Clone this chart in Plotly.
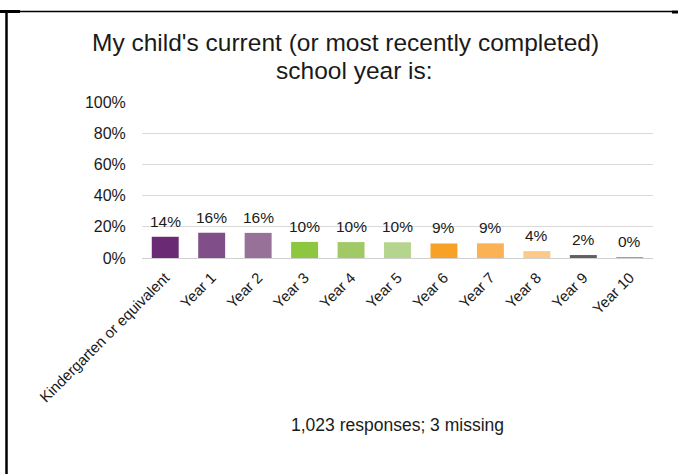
import plotly.graph_objects as go

# School year distribution (share of responses, %)
categories = ["Kindergarten or equivalent", "Year 1", "Year 2", "Year 3", "Year 4",
              "Year 5", "Year 6", "Year 7", "Year 8", "Year 9", "Year 10"]
shares = [13.6, 16.2, 16.1, 10.3, 10.2, 10.1, 9.3, 9.4, 4.4, 1.9, 0.45]
bar_colors = ["#6B2A74", "#804F8A", "#987199", "#8DC63F", "#A1C965", "#B5D58E",
              "#F7A226", "#FBB254", "#FDC986", "#5F5F5F", "#A0A0A0"]
y_ticks = [0, 20, 40, 60, 80, 100]
y_tick_labels = ["0%", "20%", "40%", "60%", "80%", "100%"]
title_lines = ["My child's current (or most recently completed)", "school year is:"]
footnote = "1,023 responses; 3 missing"

W, H = 678, 474
L, R, T, B = 142, 25, 102, 216
PW, PH = W - L - R, H - T - B

FONT = "Liberation Sans, Arial, sans-serif"
TEXT = "#1a1a1a"


def px_x(x):
    return (x - L) / PW


def px_y(y):
    return (H - B - y) / PH


fig = go.Figure(go.Bar(
    x=categories,
    y=shares,
    marker=dict(color=bar_colors, line=dict(width=0)),
    hoverinfo="x+y",
))

# value labels above the bars
for cat, v in zip(categories, shares):
    fig.add_annotation(x=cat, y=v, text=f"{v:.0f}%", showarrow=False,
                       yanchor="bottom", yshift=5,
                       font=dict(family=FONT, size=15.5, color=TEXT))

# two-line title
for text, cx, cy in zip(title_lines, [345, 354], [42, 70]):
    fig.add_annotation(xref="paper", yref="paper", x=px_x(cx), y=px_y(cy),
                       text=text, showarrow=False, xanchor="center", yanchor="middle",
                       font=dict(family=FONT, size=24.5, color=TEXT))

# footnote
fig.add_annotation(xref="paper", yref="paper", x=px_x(397), y=px_y(425),
                   text=footnote, showarrow=False,
                   xanchor="center", yanchor="middle",
                   font=dict(family=FONT, size=17.5, color=TEXT))

# frame lines around the chart
frame = [
    (0, 11.5, 672, 11.5, 1.5),
    (0, 11.5, 20, 11.5, 3),
    (672, 12, 678, 12, 3),
    (6.5, 11, 6.5, 474, 2.5),
]
for x0, y0, x1, y1, w in frame:
    fig.add_shape(type="line", xref="paper", yref="paper",
                  x0=px_x(x0), y0=px_y(y0), x1=px_x(x1), y1=px_y(y1),
                  line=dict(color="black", width=w), layer="above")

fig.update_layout(
    width=W, height=H,
    margin=dict(l=L, r=R, t=T, b=B, pad=0),
    paper_bgcolor="white", plot_bgcolor="white",
    bargap=0.42,
    showlegend=False,
    font=dict(family=FONT, color=TEXT),
)
fig.update_xaxes(
    tickangle=-45, tickfont=dict(family=FONT, size=15, color=TEXT),
    showline=True, linecolor="#D0D0D0", linewidth=1,
    showgrid=False, ticks="outside", ticklen=4, tickcolor="rgba(0,0,0,0)",
)
fig.update_yaxes(
    range=[0, 100], tickvals=y_ticks, ticktext=y_tick_labels,
    tickfont=dict(family=FONT, size=16, color=TEXT),
    showgrid=True, gridcolor="#D9D9D9", gridwidth=1,
    zeroline=False, showline=False,
    ticks="outside", ticklen=12, tickcolor="rgba(0,0,0,0)",
)

fig.write_html("out.html")
